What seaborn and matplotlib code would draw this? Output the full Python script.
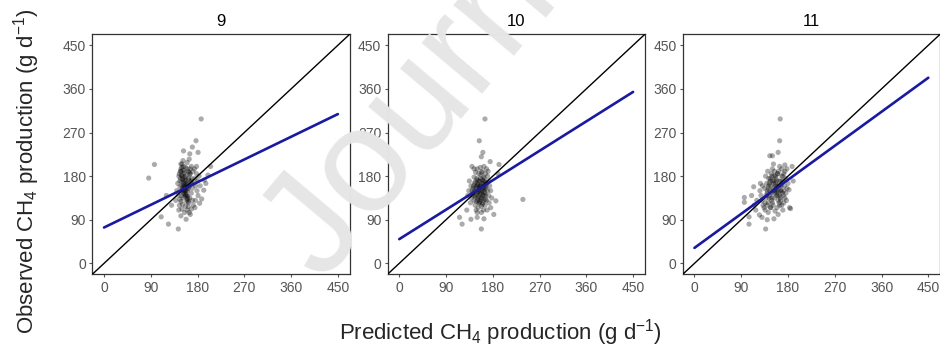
import numpy as np
import pandas as pd
from matplotlib import pyplot as plt
import seaborn as sns

# panel names
panels = ["9", "10", "11"]

# predicted / observed CH4 (g/d), one pair of lists per panel
pred_9 = [86, 97, 110, 124, 143, 187, 177, 153, 165, 181, 205, 193, 192, 188, 184, 158, 166, 148, 162, 196, 200, 170, 120, 130,
          145, 148, 150, 152, 147, 150, 153, 155, 157, 152, 148, 145, 150, 155, 160, 163, 165, 168, 170, 172, 175, 178, 174, 168,
          162, 158, 156, 160, 162, 158, 154, 150, 146, 142, 140, 143, 146, 149, 152, 155, 157, 160, 164, 166, 169, 171, 176, 179,
          181, 176, 172, 168, 164, 159, 161, 165, 167, 163, 155, 151, 156, 159, 161, 154, 150, 148, 153, 170, 180, 183, 185, 138,
          144, 151, 157, 175, 178, 160,
          147, 149, 151, 153, 155, 157, 159, 161, 163, 165, 148, 150, 152, 154, 156, 158, 160, 162, 146, 144, 152, 156, 160, 164,
          168, 150, 154, 158, 162, 166]
obs_9 = [176, 204, 96, 81, 71, 298, 253, 232, 226, 229, 200, 172, 151, 133, 124, 91, 101, 98, 117, 165, 182, 240, 140, 120,
         185, 195, 205, 212, 175, 168, 160, 150, 142, 135, 128, 120, 112, 105, 110, 125, 135, 145, 155, 165, 175, 185, 195, 200,
         190, 180, 172, 165, 158, 152, 145, 150, 158, 165, 150, 140, 132, 140, 178, 188, 198, 208, 215, 185, 175, 190, 160, 150,
         140, 130, 120, 112, 105, 128, 138, 160, 168, 172, 162, 155, 157, 162, 150, 170, 180, 190, 200, 130, 170, 180, 160, 130,
         110, 122, 118, 115, 200, 195,
         190, 182, 174, 166, 158, 150, 142, 134, 176, 184, 205, 198, 192, 186, 178, 170, 162, 154, 170, 180, 145, 138, 132, 188,
         170, 160, 150, 140, 128, 195]

pred_10 = [165, 154, 161, 158, 192, 238, 186, 182, 116, 121, 138, 158, 163, 150, 130, 190, 175, 140,
           135, 138, 140, 142, 144, 146, 148, 150, 152, 154, 156, 158, 160, 162, 164, 166, 168, 170, 172, 174, 176, 172,
           168, 165, 162, 158, 155, 152, 150, 148, 146, 144, 147, 150, 153, 156, 159, 161, 163, 166, 157, 154, 151, 149,
           145, 143, 141, 139, 137, 132, 134, 160, 163, 156, 167, 170, 173, 176, 178, 169, 161, 159, 155, 153, 157, 165,
           167, 171, 147, 144, 151, 158, 162, 164,
           145, 147, 149, 151, 153, 155, 157, 159, 161, 163, 165, 150, 152, 154, 156, 158, 160, 162, 164, 148, 146, 158,
           160, 155, 152, 150, 163, 166, 168, 142]
obs_10 = [298, 253, 229, 220, 204, 132, 129, 101, 95, 81, 91, 71, 92, 95, 110, 185, 210, 200,
          170, 160, 150, 140, 130, 120, 110, 105, 115, 125, 135, 145, 155, 165, 175, 185, 195, 180, 170, 160, 150, 140,
          130, 120, 110, 118, 128, 138, 148, 158, 168, 178, 188, 195, 185, 175, 165, 150, 140, 132, 160, 155, 165, 175,
          150, 160, 145, 135, 125, 140, 150, 190, 200, 198, 160, 150, 125, 115, 135, 110, 125, 135, 145, 170, 182, 145,
          155, 190, 140, 195, 130, 105, 170, 158,
          165, 155, 145, 135, 125, 170, 160, 150, 140, 130, 168, 172, 162, 152, 142, 132, 122, 178, 148, 128, 138, 188,
          172, 158, 148, 160, 155, 140, 165, 155]

pred_11 = [165, 164, 161, 145, 150, 96, 96, 105, 105, 137, 153, 161, 183, 185, 182, 188, 174, 114, 110, 115, 118, 120, 125,
           130, 140, 190,
           126, 128, 130, 132, 134, 136, 138, 140, 142, 144, 146, 148, 150, 152, 154, 156, 158, 160, 162, 164, 166, 168,
           170, 172, 174, 176, 178, 180, 176, 172, 168, 164, 160, 156, 152, 148, 144, 140, 136, 142, 146, 150, 154, 158,
           162, 166, 170, 174, 178, 167, 163, 159, 155, 151, 147, 143, 139, 135, 131, 127, 157, 161, 165, 169, 153, 149,
           145, 141, 137, 173, 177, 171,
           140, 143, 146, 149, 152, 155, 158, 161, 164, 167, 170, 145, 148, 151, 154, 157, 160, 163, 166, 150, 156, 162,
           168, 172, 138, 142, 147, 153, 159, 165]
obs_11 = [298, 253, 229, 222, 222, 136, 126, 96, 81, 71, 92, 101, 115, 113, 152, 200, 203, 158, 140, 120, 110, 130, 100,
          95, 90, 170,
          150, 140, 130, 120, 115, 125, 135, 145, 155, 165, 175, 185, 195, 205, 190, 180, 170, 160, 150, 140, 130, 120,
          110, 125, 135, 145, 155, 165, 175, 185, 195, 200, 185, 165, 155, 145, 135, 120, 110, 105, 115, 125, 135, 145,
          160, 170, 180, 190, 195, 150, 125, 115, 108, 150, 160, 175, 165, 155, 160, 165, 155, 140, 160, 145, 170, 135,
          150, 190, 180, 160, 130, 140,
          150, 160, 170, 180, 165, 150, 140, 130, 120, 160, 170, 140, 130, 120, 145, 175, 185, 170, 150, 170, 160, 190,
          180, 150, 140, 125, 115, 180, 150, 135]

# fitted regression line for each panel: intercept and slope
fit_intercept = [74, 50, 32]
fit_slope = [0.52, 0.675, 0.78]

ticks = [0, 90, 180, 270, 360, 450]

df = pd.concat([
    pd.DataFrame({"panel": "9", "pred": pred_9, "obs": obs_9}),
    pd.DataFrame({"panel": "10", "pred": pred_10, "obs": obs_10}),
    pd.DataFrame({"panel": "11", "pred": pred_11, "obs": obs_11}),
])

sns.set_theme(style="white")
plt.rcParams["font.family"] = ["Liberation Sans", "DejaVu Sans"]
plt.rcParams["mathtext.fontset"] = "custom"
plt.rcParams["mathtext.rm"] = "Liberation Sans"
plt.rcParams["mathtext.it"] = "Liberation Sans:italic"

fig, axes = plt.subplots(1, 3, figsize=(9.4, 3.47), dpi=100)
fig.subplots_adjust(left=0.0982, right=1.0, bottom=0.2095, top=0.901, wspace=0.1476)

for i, (ax, name) in enumerate(zip(axes, panels)):
    sub = df[df.panel == name]
    sns.scatterplot(data=sub, x="pred", y="obs", ax=ax, color="black", alpha=0.33,
                    s=14, edgecolor="none", zorder=2)
    # 1:1 line
    ax.axline((0, 0), slope=1, color="black", lw=1.0, zorder=3)
    fx = np.array([0, 450])
    fit = pd.DataFrame({"x": fx, "y": fit_intercept[i] + fit_slope[i] * fx})
    sns.lineplot(data=fit, x="x", y="y", ax=ax, color="#1a1aa0", lw=1.9, zorder=4)
    ax.set_xlim(-22.5, 472.5)
    ax.set_ylim(-22.5, 472.5)
    ax.set_xticks(ticks)
    ax.set_yticks(ticks)
    ax.set_xlabel("")
    ax.set_ylabel("")
    ax.set_title(name, fontsize=12, color="black", pad=6)
    ax.tick_params(axis="both", labelsize=10, labelcolor="#555555", color="#555555",
                   length=2.5, width=0.8, pad=2, bottom=True, left=True)
    for sp in ax.spines.values():
        sp.set_color("#333333")
        sp.set_linewidth(0.9)

fig.text(500 / 940, 1 - 333 / 347, r"Predicted CH$_\mathregular{4}$ production (g d$^\mathregular{-1}$)",
         ha="center", va="center", fontsize=16)
fig.text(27 / 940, 0.506, r"Observed CH$_\mathregular{4}$ production (g d$^\mathregular{-1}$)",
         ha="center", va="center", rotation=90, fontsize=16)

# journal watermark, mostly running off the top edge like in the source
fig.text(322 / 940, 1 - 282 / 347, "Journal", rotation=50, rotation_mode="anchor",
         ha="left", va="baseline", fontsize=107, color="#e6e6e6", zorder=10)

fig.savefig("out.png", dpi=100)
